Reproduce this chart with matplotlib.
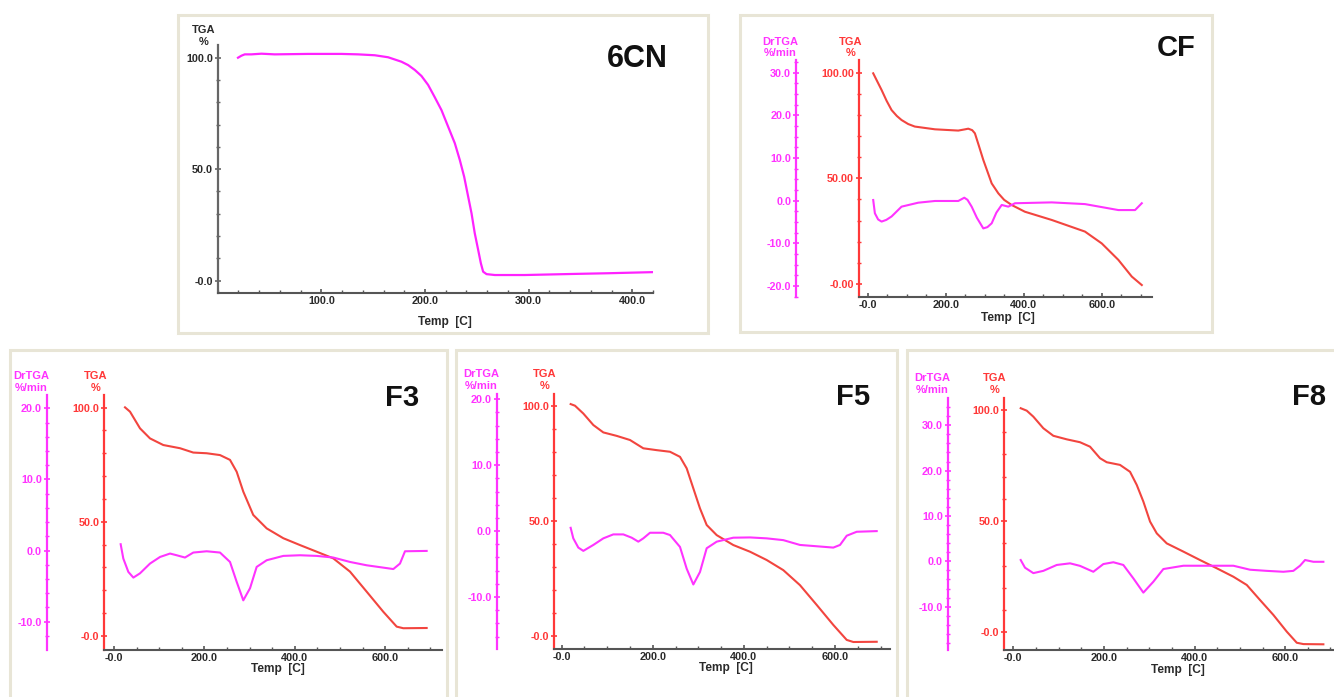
import numpy as np
import matplotlib
matplotlib.use("Agg")
import matplotlib.pyplot as plt
from matplotlib.patches import Rectangle
from matplotlib.ticker import MultipleLocator

plt.rcParams['font.family'] = ['Liberation Sans', 'DejaVu Sans']
plt.rcParams['font.weight'] = 'bold'

# ---- data ----
# 6CN (TGA only)
cn6_temp = [19.6, 22.9, 26.1, 32.5, 42.2, 55, 87.2, 119.4, 135.4, 151.5, 164.4, 177.3,
            183.7, 190.2, 196.6, 203, 209.5, 215.9, 222.3, 228.8, 233.6, 237.8, 241,
            244.9, 248, 251.3, 253.9, 256.1, 259.4, 267.4, 296.3, 344.6, 376.7, 420.2]
cn6_tga = [100, 100.9, 101.5, 101.5, 101.8, 101.5, 101.7, 101.7, 101.5, 101.1, 100.2, 98.2,
           96.7, 94.5, 91.8, 87.8, 82.2, 76.5, 69.1, 61.6, 54.1, 46.6, 39.2,
           30.2, 21.3, 13.8, 7.8, 4.0, 2.9, 2.5, 2.5, 3.0, 3.3, 3.8]

# CF
cf_temp = [14.4, 25, 35.9, 48.7, 61.5, 75, 87, 104, 121, 172.6, 232.4, 250, 258, 268,
           275, 285, 296.5, 318, 335, 350, 369, 403, 471.8, 557, 600, 642.6, 677, 702.6]
cf_tga = [99.7, 95.8, 91.8, 86.7, 82.3, 79.5, 77.6, 75.7, 74.5, 73.2, 72.6, 73.2, 73.5,
          72.8, 71.3, 65.5, 58.7, 47.6, 42.9, 39.8, 37.4, 34.2, 30.3, 24.8, 19.2, 11.4,
          3.5, -0.5]
cf_dtemp = [14.4, 18.7, 27, 35.9, 48, 61.5, 87, 129.8, 172.6, 232.4, 247.8, 256, 266.7,
            280, 296.5, 307, 318, 330, 343.6, 360.5, 377.7, 471.8, 557, 642.6, 685.4,
            702.6]
cf_dtga = [0.16, -2.96, -4.4, -4.9, -4.5, -3.7, -1.4, -0.47, -0.07, -0.07, 0.7, 0.2,
           -1.4, -4.0, -6.5, -6.2, -5.3, -2.8, -1.0, -1.4, -0.6, -0.4, -0.8, -2.2,
           -2.2, -0.6]

# F3
f3_temp = [24.3, 35.4, 57.5, 79.6, 109, 146, 175.4, 205, 234.5, 256.6, 271.4, 286, 308,
           337.8, 374.6, 411.5, 448.4, 485, 522, 559, 595.8, 625.4, 640, 691.7]
f3_tga = [100.1, 98.2, 90.9, 86.5, 83.6, 82.2, 80.3, 80, 79.2, 77.1, 71.9, 63.2, 53,
          47.1, 42.8, 39.8, 36.9, 34, 28.2, 19.4, 10.6, 4.1, 3.4, 3.5]
f3_dtemp = [14.7, 20.6, 31.7, 42.8, 57.5, 79.6, 101.8, 123.9, 138.6, 157, 175.4, 205,
            234.5, 256.6, 271.4, 286, 300.9, 315.6, 337.8, 374.6, 411.5, 448.4, 485,
            522, 559, 595.8, 618, 632.7, 643.8, 691.7]
f3_dtga = [0.89, -1.13, -3.0, -3.8, -3.2, -1.83, -0.9, -0.42, -0.66, -0.98, -0.28, -0.1,
           -0.28, -1.6, -4.4, -7.0, -5.3, -2.3, -1.36, -0.75, -0.66, -0.75, -0.98,
           -1.6, -2.07, -2.4, -2.6, -1.83, -0.1, -0.05]

# F5
f5_temp = [19.7, 29.2, 47.5, 69.5, 91.4, 120.7, 150, 179.2, 208.6, 237.8, 259.7, 274.4,
           289, 303.6, 318.3, 340.3, 376.7, 413.4, 450, 486.5, 523, 559.8, 596.3,
           625.7, 640.2, 691.5]
f5_tga = [100.7, 100, 96.6, 91.6, 88.4, 86.9, 85.1, 81.5, 80.7, 80, 77.8, 72.8, 64.1,
          55.4, 48.2, 43.8, 39.5, 36.6, 33, 28.6, 22.1, 13.5, 4.8, -1.7, -2.6, -2.5]
f5_dtemp = [19.7, 25.5, 36.5, 47.5, 69.5, 91.4, 113.3, 135.3, 153.7, 168.2, 179.2,
            193.9, 223, 237.8, 259.7, 274.4, 289, 303.6, 318.3, 340.3, 376.7, 413.4,
            450, 486.5, 523, 559.8, 596.3, 611, 625.7, 647.6, 691.5]
f5_dtga = [0.5, -1.1, -2.5, -3.0, -2.1, -1.1, -0.5, -0.5, -1.0, -1.6, -1.1, -0.25,
           -0.25, -0.6, -2.4, -5.7, -8.1, -6.2, -2.6, -1.6, -1.0, -0.96, -1.1, -1.37,
           -2.1, -2.3, -2.5, -2.1, -0.7, -0.1, 0]

# F8
f8_temp = [16.3, 29.6, 44.2, 66.2, 88.3, 117.9, 147.2, 169.3, 191.4, 206.2, 235.5,
           257.6, 272.4, 287, 301.8, 316.6, 338.6, 375.3, 412.1, 449, 485.7, 515.2,
           544.6, 574, 603.5, 625.6, 640.2, 684.3]
f8_tga = [100.8, 99.7, 97, 91.8, 88.4, 86.8, 85.5, 83.5, 78.3, 76.5, 75.3, 72.2, 66.3,
          58.8, 49.8, 44.5, 40, 36.3, 32.5, 28.8, 25, 21.3, 14.5, 7.8, 0.3, -4.7,
          -5.3, -5.4]
f8_dtemp = [16.3, 25.8, 44.2, 66.2, 95.8, 125.2, 147.2, 176.6, 198.7, 220.8, 242.8,
            264.9, 287, 309, 331.1, 375.3, 449, 485.7, 522.5, 559.4, 596, 618, 632.7,
            643.9, 662.3, 684.3]
f8_dtga = [0.29, -1.4, -2.6, -2.1, -0.8, -0.44, -1.0, -2.3, -0.6, -0.2, -0.8, -3.75,
           -6.9, -4.5, -1.7, -0.97, -0.97, -0.97, -1.85, -2.1, -2.3, -2.1, -0.97,
           0.29, -0.1, -0.1]

# tick labels
x_ticks = [0, 200, 400, 600]
x_labels = ['-0.0', '200.0', '400.0', '600.0']
cn6_x_ticks = [100, 200, 300, 400]
cn6_x_labels = ['100.0', '200.0', '300.0', '400.0']
tga_ticks = [100, 50, 0]
tga_labels = ['100.0', '50.0', '-0.0']
cf_tga_labels = ['100.00', '50.00', '-0.00']
cf_dr_ticks = [30, 20, 10, 0, -10, -20]
f8_dr_ticks = [30, 20, 10, 0, -10]
f35_dr_ticks = [20, 10, 0, -10]

W, H = 1334, 697
RED = '#ff3838'
RED_LINE = '#f2453f'
MAG = '#ff33ff'
DARK = '#2a2a2a'
FRAME = '#e8e5d6'


def rect(left, top, right, bottom):
    return [left / W, 1 - bottom / H, (right - left) / W, (bottom - top) / H]


def ftext(x, y, s, **kw):
    fig.text(x / W, 1 - y / H, s, **kw)


def style_x(ax, ticks, labels, minor):
    ax.set_xticks(ticks, labels=labels)
    ax.xaxis.set_minor_locator(MultipleLocator(minor))
    ax.tick_params(axis='x', which='major', direction='in', length=3, width=1.2,
                   colors='#555555', labelcolor=DARK, labelsize=7.8, pad=2)
    ax.tick_params(axis='x', which='minor', direction='in', length=2, width=1,
                   colors='#555555')
    ax.spines['bottom'].set_color('#555555')
    ax.spines['bottom'].set_linewidth(1.5)
    ax.spines['top'].set_visible(False)
    ax.spines['right'].set_visible(False)


def style_y(ax, color, ticks, labels, minor):
    ax.set_yticks(ticks, labels=labels)
    ax.yaxis.set_minor_locator(MultipleLocator(minor))
    ax.tick_params(axis='y', which='major', direction='inout', length=5, width=1.2,
                   colors=color, labelsize=7.8, pad=1)
    ax.tick_params(axis='y', which='minor', direction='inout', length=2.5, width=1,
                   colors=color)
    ax.spines['left'].set_color(color)
    ax.spines['left'].set_linewidth(1.6)


def dual_panel(box, dr_x, xlim, tga_lim, dr_lim, tga_lbls, dr_ticks, dr_minor,
               temp, tga, dtemp, dtga):
    ax = fig.add_axes(rect(*box))
    ax.patch.set_alpha(0)
    ax.plot(temp, tga, color=RED_LINE, lw=1.5, solid_joinstyle='round')
    ax.set_xlim(*xlim)
    ax.set_ylim(*tga_lim)
    style_x(ax, x_ticks, x_labels, 50)
    style_y(ax, RED, tga_ticks, tga_lbls, 10)

    ax2 = ax.twinx()
    ax2.plot(dtemp, dtga, color=MAG, lw=1.5, solid_joinstyle='round')
    ax2.set_ylim(*dr_lim)
    ax2.yaxis.tick_left()
    for s in ['right', 'top', 'bottom']:
        ax2.spines[s].set_visible(False)
    ax2.spines['left'].set_visible(True)
    ax2.spines['left'].set_position(('axes', (dr_x - box[0]) / (box[2] - box[0])))
    style_y(ax2, MAG, dr_ticks, ['%.1f' % t for t in dr_ticks], dr_minor)
    return ax


fig = plt.figure(figsize=(13.34, 6.97), dpi=100)

# panel frames
for l, t, r, b in [(178, 15, 708, 333), (740, 15, 1212, 332), (10, 350, 447, 720),
                   (456, 350, 897, 720), (907, 350, 1345, 720)]:
    fig.patches.append(Rectangle((l / W, 1 - b / H), (r - l) / W, (b - t) / H,
                                 transform=fig.transFigure, fill=False,
                                 edgecolor=FRAME, lw=2.2))

# 6CN
ax = fig.add_axes(rect(217.7, 45, 653, 293.3))
ax.plot(cn6_temp, cn6_tga, color='#ff22ff', lw=1.6)
ax.set_xlim(0, 420)
ax.set_ylim(-5.7, 105.7)
style_x(ax, cn6_x_ticks, cn6_x_labels, 20)
style_y(ax, '#666666', tga_ticks, tga_labels, 10)
ax.tick_params(axis='y', labelcolor=DARK)
ftext(204, 36, 'TGA\n%', ha='center', va='center', fontsize=8, color=DARK,
      linespacing=1.15)
ftext(445, 321.7, 'Temp  [C]', ha='center', va='center', fontsize=8.6, color=DARK)
ftext(668, 59, '6CN', ha='right', va='center', fontsize=22, color='#111111')

# CF
dual_panel((859, 60, 1151.7, 297.3), 796, (-22, 728), (-6.3, 106), (-22.65, 32.98),
           cf_tga_labels, cf_dr_ticks, 2.5, cf_temp, cf_tga, cf_dtemp, cf_dtga)
ftext(780, 47.5, 'DrTGA\n%/min', ha='center', va='center', fontsize=8, color=MAG,
      linespacing=1.15)
ftext(851, 47.5, 'TGA\n%', ha='center', va='center', fontsize=8, color=RED,
      linespacing=1.15)
ftext(1008, 318, 'Temp  [C]', ha='center', va='center', fontsize=8.6, color=DARK)
ftext(1196, 48, 'CF', ha='right', va='center', fontsize=21, color='#111111')

# F3
dual_panel((104.3, 395, 441.7, 650), 46.7, (-21.5, 725), (-6.13, 105.5),
           (-13.98, 21.87), tga_labels, f35_dr_ticks, 2,
           f3_temp, f3_tga, f3_dtemp, f3_dtga)
ftext(31, 382, 'DrTGA\n%/min', ha='center', va='center', fontsize=8, color=MAG,
      linespacing=1.15)
ftext(96, 382, 'TGA\n%', ha='center', va='center', fontsize=8, color=RED,
      linespacing=1.15)
ftext(277.7, 669, 'Temp  [C]', ha='center', va='center', fontsize=8.6, color=DARK)
ftext(419, 397.5, 'F3', ha='right', va='center', fontsize=21, color='#111111')

# F5
dual_panel((554.3, 394.3, 890, 649), 496.7, (-16.2, 720.7), (-5.64, 104.95),
           (-17.89, 20.76), tga_labels, f35_dr_ticks, 2,
           f5_temp, f5_tga, f5_dtemp, f5_dtga)
ftext(481, 380, 'DrTGA\n%/min', ha='center', va='center', fontsize=8, color=MAG,
      linespacing=1.15)
ftext(545, 380, 'TGA\n%', ha='center', va='center', fontsize=8, color=RED,
      linespacing=1.15)
ftext(726, 668.3, 'Temp  [C]', ha='center', va='center', fontsize=8.6, color=DARK)
ftext(870, 397, 'F5', ha='right', va='center', fontsize=21, color='#111111')

# F8
dual_panel((1004.3, 398.3, 1340, 650), 947.7, (-19.9, 721), (-7.96, 105.26),
           (-19.55, 35.95), tga_labels, f8_dr_ticks, 2,
           f8_temp, f8_tga, f8_dtemp, f8_dtga)
ftext(932, 384, 'DrTGA\n%/min', ha='center', va='center', fontsize=8, color=MAG,
      linespacing=1.15)
ftext(995, 384, 'TGA\n%', ha='center', va='center', fontsize=8, color=RED,
      linespacing=1.15)
ftext(1177.7, 670, 'Temp  [C]', ha='center', va='center', fontsize=8.6, color=DARK)
ftext(1326, 397, 'F8', ha='right', va='center', fontsize=21, color='#111111')

fig.savefig('out.png', dpi=100)
